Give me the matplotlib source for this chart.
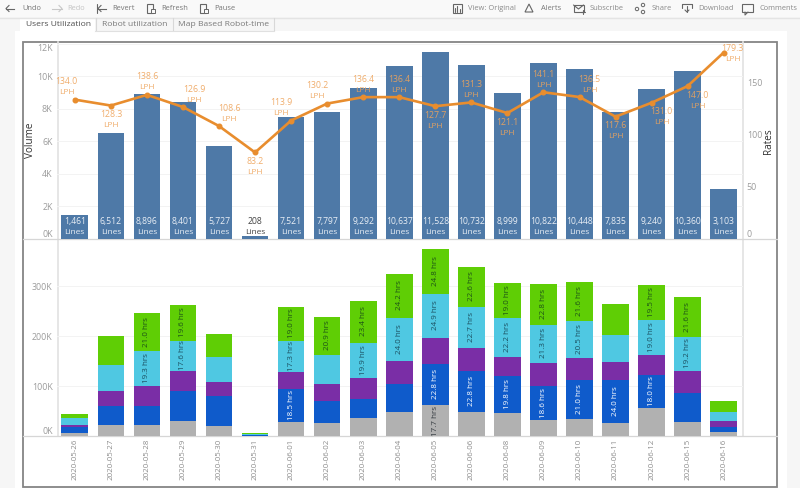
import matplotlib
matplotlib.use("Agg")
import matplotlib.pyplot as plt
from matplotlib.patches import Rectangle, Polygon, Circle
from matplotlib.ticker import FuncFormatter
import numpy as np

plt.rcParams['font.family'] = ['Open Sans', 'DejaVu Sans']

dates = ['2020-05-26','2020-05-27','2020-05-28','2020-05-29','2020-05-30','2020-05-31',
         '2020-06-01','2020-06-02','2020-06-03','2020-06-04','2020-06-05','2020-06-06',
         '2020-06-08','2020-06-09','2020-06-10','2020-06-11','2020-06-12','2020-06-15','2020-06-16']
volume = [1461,6512,8896,8401,5727,208,7521,7797,9292,10637,11528,10732,8999,10822,10448,7835,9240,10360,3103]
rates = [134.0,128.3,138.6,126.9,108.6,83.2,113.9,130.2,136.4,136.4,127.7,131.3,121.1,141.1,136.5,117.6,131.0,147.0,179.3]
rate_dx = [-8,0,0,11,10,0,-10,-10,0,0,0,0,0,0,10,0,10,10,9]
rate_dy = [18,-9,18,18,18,-9,18,18,18,18,-9,18,-9,18,18,-9,-9,-9,4]

# stacked segments, thousands
gray_v   = [6,23,23,31,21,1,28,26,36,49,62,49,47,32,35,27,56,28,8]
blue_v   = [13,38,37,60,60,1,67,45,39,56,83,82,73,68,77,86,66,59,11]
purple_v = [4,29,40,40,27,1,34,33,41,46,52,45,38,47,45,35,41,44,12]
cyan_v   = [13,53,70,60,51,1,62,59,71,86,88,83,79,76,74,55,69,68,18]
green_v  = [8,57,76,72,46,3,68,76,84,88,90,80,70,82,78,61,71,79,21]

gray_l   = [None]*10 + ['17.7 hrs'] + [None]*8
blue_l   = [None]*6 + ['18.5 hrs',None,None,None,'22.8 hrs','22.8 hrs','19.8 hrs','18.6 hrs','21.0 hrs','24.0 hrs','18.0 hrs',None,None]
cyan_l   = [None,None,'19.3 hrs','17.6 hrs',None,None,'17.3 hrs',None,'19.9 hrs','24.0 hrs','24.9 hrs','22.7 hrs','22.2 hrs','21.3 hrs','20.5 hrs',None,'19.0 hrs','19.2 hrs',None]
green_l  = [None,None,'21.0 hrs','19.6 hrs',None,None,'19.0 hrs','20.9 hrs','23.4 hrs','24.2 hrs','24.8 hrs','22.6 hrs','19.0 hrs','22.8 hrs','21.6 hrs',None,'19.5 hrs','21.6 hrs',None]

W, H = 800, 488
BAR = '#4e79a7'
ORANGE = '#e88d2e'
ORANGE_T = '#eea45c'
TICK = '#9c9c9c'
fig = plt.figure(figsize=(8, 4.88), dpi=100, facecolor='#f6f6f6')

def pxaxes(l, t, r, b, **kw):
    return fig.add_axes([l/W, 1-b/H, (r-l)/W, (b-t)/H], **kw)

# ---- chrome background
bg = fig.add_axes([0,0,1,1], zorder=0)
bg.set_xlim(0,W); bg.set_ylim(H,0); bg.axis('off')
bg.add_patch(Rectangle((0,0),W,17,fc='#f9f9f9',ec='none'))
bg.plot([0,W],[17.5,17.5],color='#e4e4e4',lw=1)
bg.add_patch(Rectangle((15,31),772,457,fc='white',ec='none'))
bg.add_patch(Rectangle((20,18),75,13,fc='white',ec='none'))
for x in (95.5,172.5,273.5):
    bg.plot([x,x],[18,30],color='#d8d8d8',lw=0.8)
bg.plot([95,274],[30.5,30.5],color='#e0e0e0',lw=0.8)
for s,x,c in (('Users Utilization',26,'#4f4f4f'),('Robot utilization',102,'#7a7a7a'),('Map Based Robot-time',178,'#7a7a7a')):
    bg.text(x,24,s,fontsize=6.1,color=c,va='center',ha='left')
for s,x,c in (('Undo',22,'#777777'),('Redo',67,'#c4c4c4'),('Revert',112,'#777777'),('Refresh',161,'#777777'),
              ('Pause',214,'#777777'),('View: Original',468,'#8a8a8a'),('Alerts',541,'#777777'),
              ('Subscribe',590,'#8a8a8a'),('Share',652,'#8a8a8a'),('Download',698,'#8a8a8a'),('Comments',759,'#8a8a8a')):
    bg.text(x,8.5,s,fontsize=5.4,color=c,va='center',ha='left')
ic = dict(color='#666666', lw=0.8, solid_capstyle='round')
def arrow(x0,x1,c='#666666'):
    bg.plot([x0,x1],[8.5,8.5],color=c,lw=0.8)
    bg.plot([x0+3,x0,x0+3],[5.5,8.5,11.5],color=c,lw=0.8)
arrow(6,14)
bg.plot([52,62],[8.5,8.5],color='#c8c8c8',lw=0.8)
bg.plot([59,62,59],[5.5,8.5,11.5],color='#c8c8c8',lw=0.8)
bg.plot([96.5,96.5],[4,13],**ic); arrow(98,106)
for x in (147,200):
    bg.add_patch(Rectangle((x,4),6,9,fc='none',ec='#666666',lw=0.8))
    bg.add_patch(Rectangle((x+4,9),4,4,fc='#f9f9f9',ec='#666666',lw=0.7))
bg.add_patch(Rectangle((453,4),9,9,fc='none',ec='#666666',lw=0.8))
for x,h in ((455,4),(457,6),(459.5,3)):
    bg.plot([x,x],[12,12-h],**ic)
bg.add_patch(Polygon([[529,4],[533,12],[525,12]],fc='none',ec='#666666',lw=0.8))
bg.add_patch(Rectangle((573.5,5),10,7,fc='none',ec='#666666',lw=0.8))
bg.plot([573.5,578.5,583.5],[5,9,5],**ic)
bg.plot([583,583],[10,14],**ic); bg.plot([581,585],[12,12],**ic)
for cx,cy in ((637,9),(643,5),(643,12)):
    bg.add_patch(Circle((cx,cy),1.7,fc='none',ec='#666666',lw=0.7))
bg.plot([682,682,692,692],[8,4,4,8],**ic)
bg.plot([687,687],[6,12],**ic); bg.plot([685,687,689],[10,12,10],**ic)
bg.add_patch(Rectangle((742,4),11,8,fc='none',ec='#666666',lw=0.8))
bg.plot([745,745,748],[12,15,12],**ic)

# ---- shared geometry
x = np.arange(len(dates))
XL = (-0.48, 18.527)
BW = 0.74
grid_c = '#f3f3f3'

# ---- top panel
ax = pxaxes(57.5, 42, 742.7, 239, zorder=2)
ax.set_facecolor('none')
ax.bar(x, volume, width=BW, color=BAR, zorder=2)
ax.set_xlim(*XL); ax.set_ylim(0, 12123)
ax.set_yticks([0,2000,4000,6000,8000,10000,12000])
ax.yaxis.set_major_formatter(FuncFormatter(lambda v,_: f'{int(v/1000)}K'))
ax.set_xticks([])
ax.grid(axis='y', color=grid_c, lw=0.7, zorder=0)
ax.tick_params(axis='y', length=0, labelsize=6.4, labelcolor=TICK, pad=3.5)
ax.set_ylabel('Volume', fontsize=7.2, color='#333333', labelpad=0)
ax.yaxis.set_label_coords(-0.0314, 0.5)
labs = ax.get_yticklabels()
labs[0].set_va('bottom'); labs[-1].set_va('top')

tw = ax.twinx()
tw.set_zorder(3)
tw.set_ylim(0, 189.4)
tw.set_yticks([0,50,100,150])
tw.tick_params(axis='y', length=0, labelsize=6.4, labelcolor=TICK, pad=3)
tw.set_ylabel('Rates', fontsize=7.2, color='#333333', rotation=90)
tw.yaxis.set_label_coords(1.0289, 0.495)
tw.get_yticklabels()[0].set_va('bottom')
tw.plot(x, rates, color=ORANGE, lw=1.9, marker='o', ms=3.3, zorder=4)
for i, v in enumerate(volume):
    c = '#444444' if v < 1000 else '#e8eef5'
    tw.annotate(f'{v:,}', (i, 0), xytext=(0, 17.5), textcoords='offset pixels', ha='center', va='center', fontsize=6.2, color=c, zorder=6)
    tw.annotate('Lines', (i, 0), xytext=(0, 6), textcoords='offset pixels', ha='center', va='center', fontsize=6, color=c, zorder=6)
for i, r in enumerate(rates):
    tw.annotate(f'{r:.1f}', (i, r), xytext=(rate_dx[i], rate_dy[i]), textcoords='offset pixels',
                ha='center', va='center', fontsize=6.3, color=ORANGE_T, alpha=0.9, zorder=5)
    tw.annotate('LPH', (i, r), xytext=(rate_dx[i], rate_dy[i]-11), textcoords='offset pixels',
                ha='center', va='center', fontsize=6, color=ORANGE_T, alpha=0.9, zorder=5)

# ---- bottom panel
ab = pxaxes(57.5, 239, 742.7, 436, zorder=2)
ab.set_facecolor('none')
series = [(gray_v,'#b1b1b1',gray_l,'#33393f'),
          (blue_v,'#0f5bcb',blue_l,'#ffffff'),
          (purple_v,'#7a2ea6',[None]*19,'#ffffff'),
          (cyan_v,'#4fc8e2',cyan_l,'#1b4f60'),
          (green_v,'#5fce05',green_l,'#1d5218')]
base = np.zeros(len(dates))
for vals, col, lbls, tc in series:
    vals = np.array(vals, dtype=float)
    ab.bar(x, vals, bottom=base, width=BW, color=col, zorder=2)
    for i, s in enumerate(lbls):
        if s:
            ab.text(i, base[i]+vals[i]/2, s, rotation=90, ha='center', va='center', fontsize=5.8, color=tc, zorder=4)
    base += vals
ab.set_xlim(*XL); ab.set_ylim(0, 394)
ab.set_yticks([0,100,200,300])
ab.yaxis.set_major_formatter(FuncFormatter(lambda v,_: f'{int(v)}K'))
ab.set_xticks(x); ab.set_xticklabels(dates, rotation=90)
ab.grid(axis='y', color=grid_c, lw=0.7, zorder=0)
ab.tick_params(axis='y', length=0, labelsize=6.4, labelcolor=TICK, pad=3.5)
ab.tick_params(axis='x', length=0, labelsize=5.7, labelcolor='#8c8c8c', pad=2.2)
ab.get_yticklabels()[0].set_va('bottom')

for a in (ax, tw, ab):
    for s in ('top','left','right','bottom'):
        a.spines[s].set_visible(False)

# ---- frame and rules
fg = fig.add_axes([0,0,1,1], zorder=1)
fg.set_xlim(0,W); fg.set_ylim(H,0); fg.axis('off'); fg.patch.set_alpha(0)
fg.add_patch(Rectangle((23,41.5),753.7,445.5,fc='none',ec='#858585',lw=1.3))
fg.plot([57.5,57.5],[42,436],color='#e2e2e2',lw=1.2)
fg.plot([742.7,742.7],[42,436],color='#e2e2e2',lw=1.2)
fg.plot([23,777],[239.3,239.3],color='#d6d6d6',lw=0.9)
fg.plot([23,777],[436,436],color='#d6d6d6',lw=0.9)

fig.savefig('out.png', dpi=100, facecolor=fig.get_facecolor())
